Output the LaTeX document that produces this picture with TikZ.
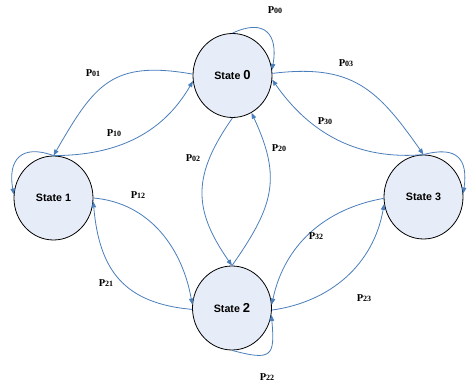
\documentclass[tikz,border=0pt]{standalone}
\usepackage{fontspec}
\setmainfont{Liberation Serif}
\newfontfamily\statefont{Liberation Sans}
\usetikzlibrary{arrows.meta,shapes.geometric}

\definecolor{edgeblue}{RGB}{74,126,187}
\definecolor{statefill}{RGB}{231,237,248}

\newcommand{\pij}[1]{\textbf{P}{\fontsize{8}{8}\selectfont\bfseries #1}}
\newcommand{\bigdigit}[1]{{\fontsize{13}{13}\selectfont #1}}

\tikzset{
  state/.style={ellipse, draw=black, line width=0.8pt, fill=statefill,
    minimum width=79pt, minimum height=84pt, inner sep=0pt,
    font=\statefont\bfseries\fontsize{10.7}{12}\selectfont},
  trans/.style={draw=edgeblue, line width=0.8pt,
    -{Triangle[length=6pt,width=4.5pt]}},
  plab/.style={inner sep=1pt, font=\fontsize{10.5}{12}\selectfont}
}

\begin{document}
\begin{tikzpicture}[x=1pt,y=1pt]

\useasboundingbox (0,0) rectangle (468,387);

%states
\node (s0) [state] at (232.5,311.5) {State \bigdigit{0}};
\node (s1) [state] at (53.5,189) {State 1};
\node (s2) [state] at (232,79) {State \bigdigit{2}};
\node (s3) [state] at (423.5,190) {State 3};

%self loops
\draw [trans] (s0.north) to [out=25, in=80, looseness=1.7] (s0.8);
\draw [trans] (s1.north) to [out=160, in=100, looseness=1.6] (s1.175);
\draw [trans] (s2.south) to [out=-15, in=-85, looseness=2] (s2.-10);
\draw [trans] (s3.north) to [out=15, in=82, looseness=1.6] (s3.5);

%state 0 and state 1
\draw [trans] (s0.178) to [out=170, in=60, looseness=1.3] (s1.north);
\draw [trans] (s1.north) to [out=0, in=240] (s0.188);

%state 0 and state 3
\draw [trans] (s0.3) to [out=7, in=125, looseness=1.2] (s3.north);
\draw [trans] (s3.north) to [out=185, in=-55] (s0.-6);

%state 0 and state 2
\draw [trans] (s0.south) to [out=235, in=125, looseness=1.2] (s2.north);
\draw [trans] (s2.north) to [out=55, in=-65, looseness=1.2] (s0.-63);

%state 1 and state 2
\draw [trans] (s1.east) to [out=-5, in=100] (s2.175);
\draw [trans] (s2.182) to [out=175, in=-85, looseness=1.2] (s1.-5);

%state 2 and state 3
\draw [trans] (s3.182) to [out=190, in=78] (s2.5);
\draw [trans] (s2.-3) to [out=8, in=-100] (s3.190);

%transition labels
\node (l00) [plab] at (275,377) {\pij{00}};
\node (l01) [plab] at (93,314) {\pij{01}};
\node (l10) [plab] at (114,254) {\pij{10}};
\node (l02) [plab] at (193,229) {\pij{02}};
\node (l20) [plab] at (279,239) {\pij{20}};
\node (l03) [plab] at (346,324) {\pij{03}};
\node (l30) [plab] at (325,266) {\pij{30}};
\node (l12) [plab] at (138,192) {\pij{12}};
\node (l21) [plab] at (106,104) {\pij{21}};
\node (l32) [plab] at (316,151) {\pij{32}};
\node (l23) [plab] at (364,89) {\pij{23}};
\node (l22) [plab] at (267,10) {\pij{22}};

\end{tikzpicture}
\end{document}
